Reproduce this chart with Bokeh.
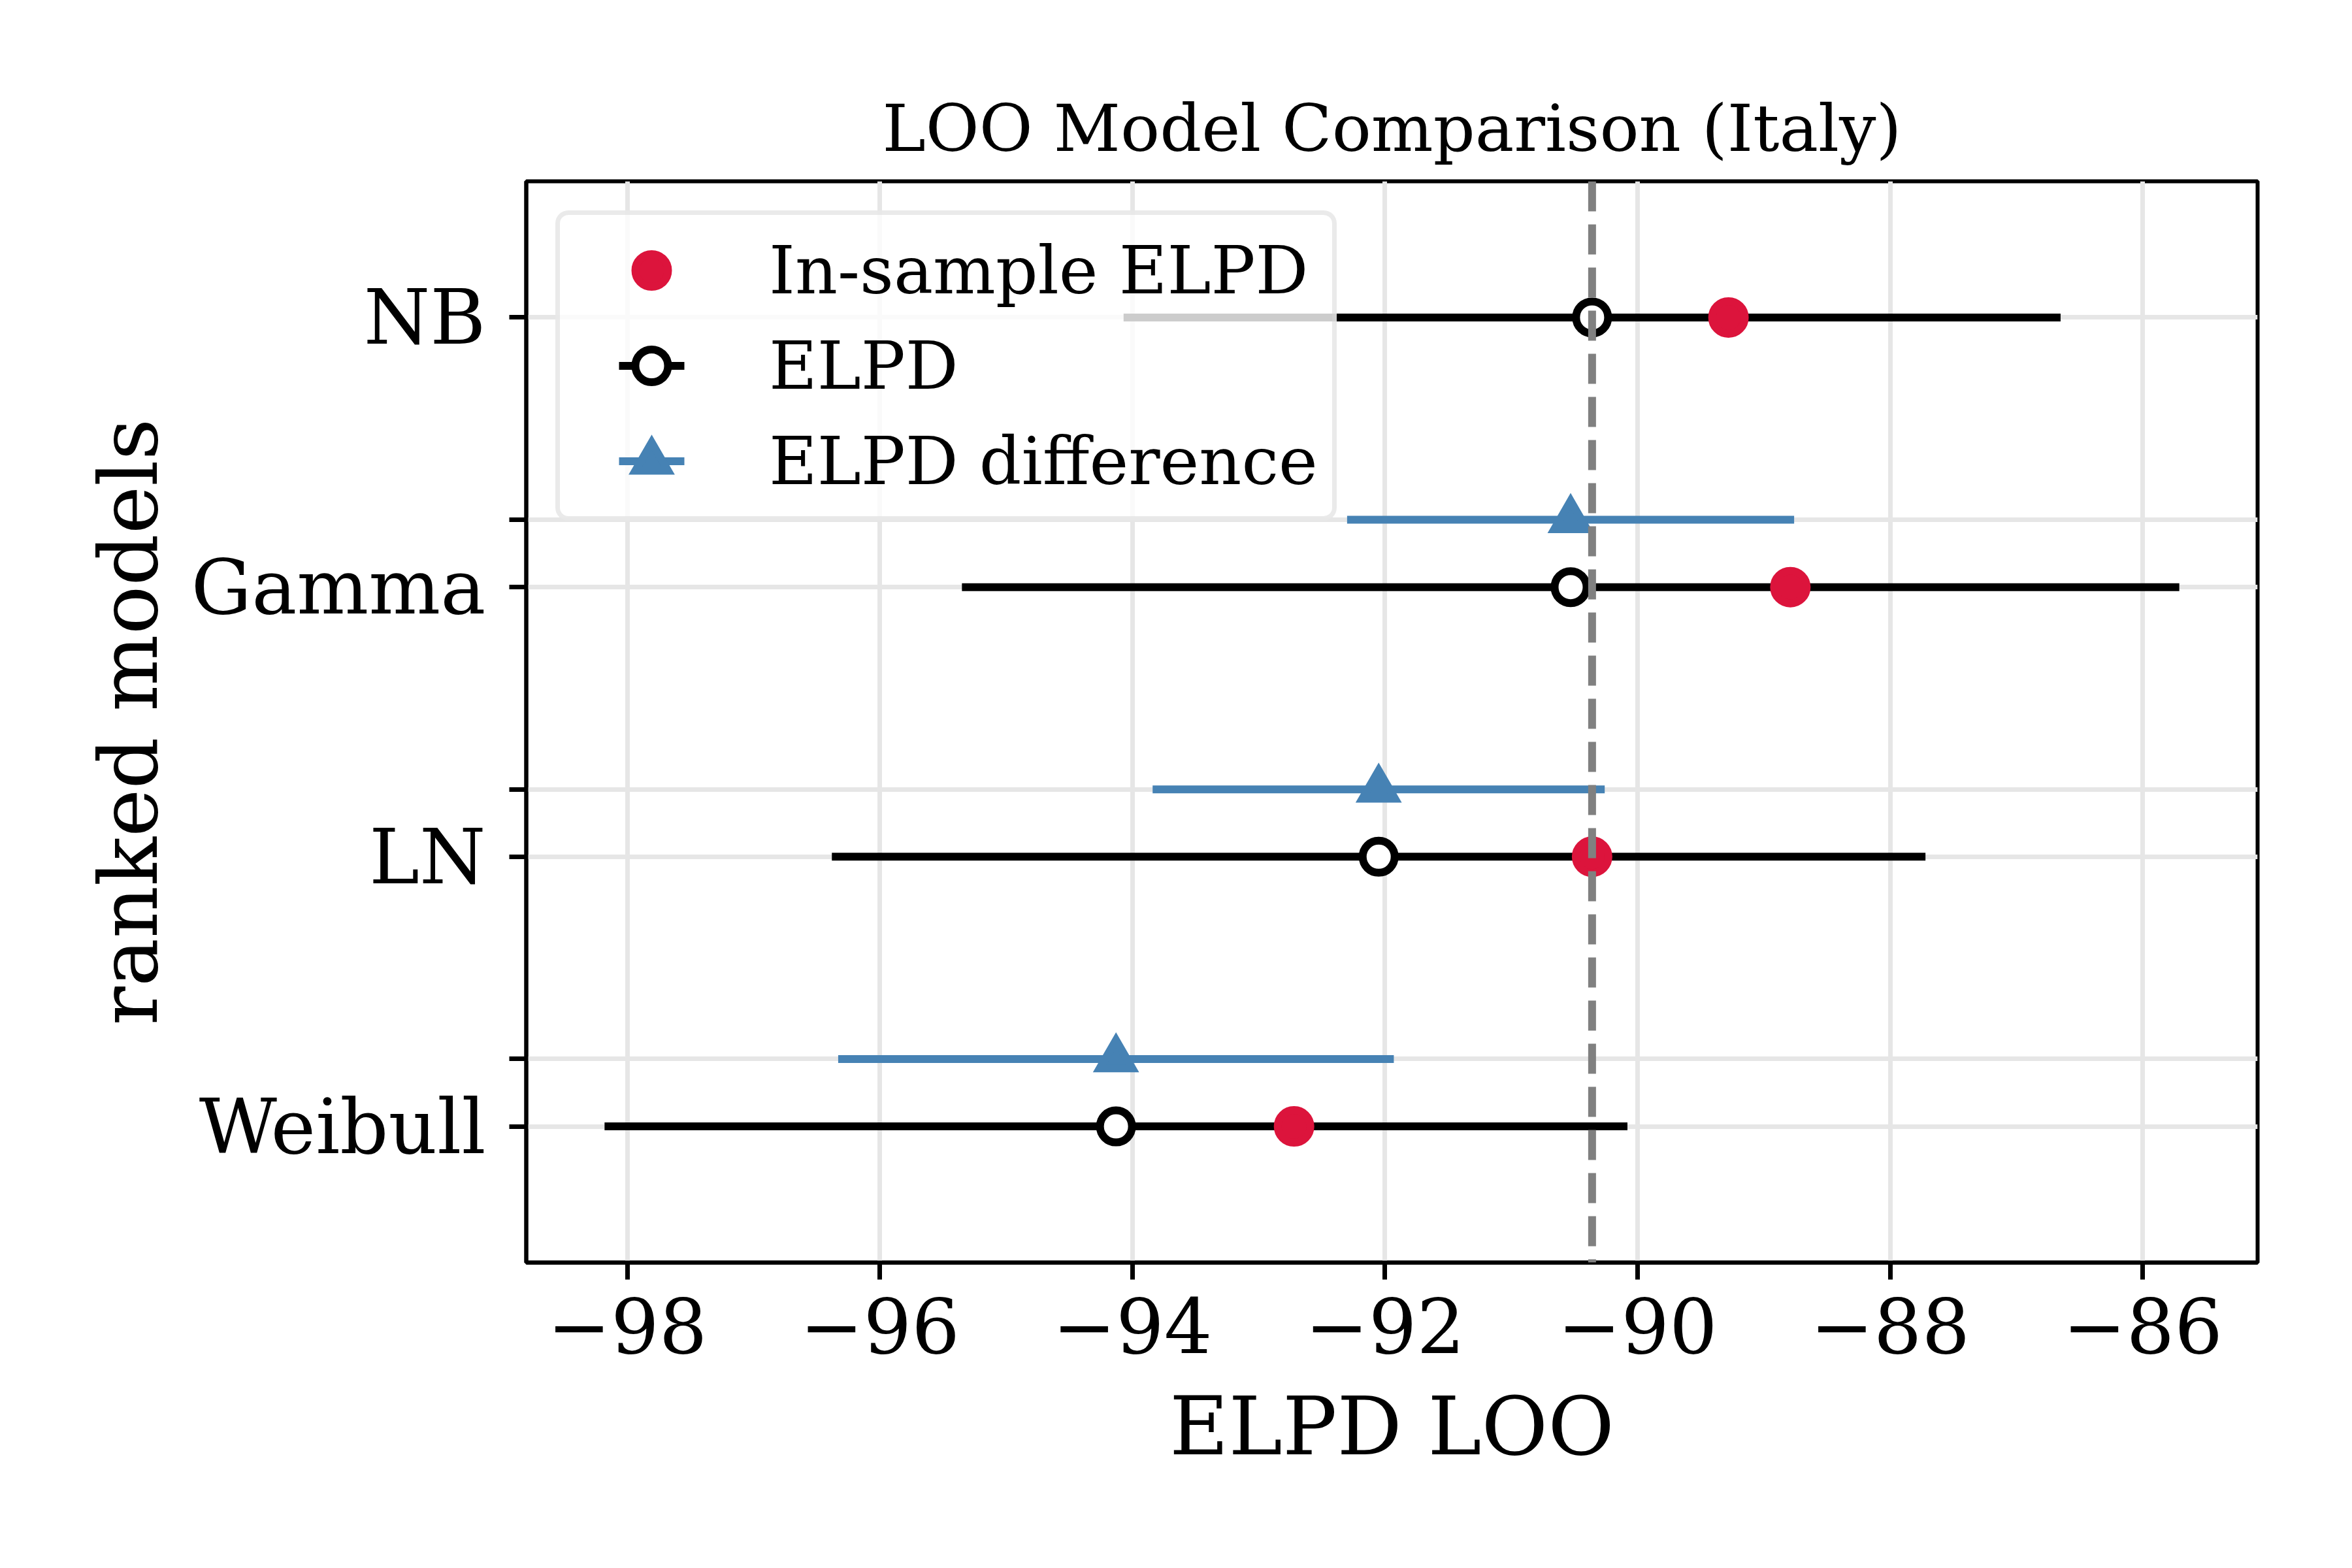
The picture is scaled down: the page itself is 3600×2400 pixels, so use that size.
import math
from bokeh.plotting import figure
from bokeh.models import Range1d, FixedTicker, Legend, LegendItem, Span
from bokeh.embed import file_html
from bokeh.resources import INLINE

FONT = "DejaVu Serif"

# ---- data ----
models = ["NB", "Gamma", "LN", "Weibull"]          # ranked, best first
model_rank = [3, 2, 1, 0]                            # y position of each model row
elpd_loo = [-90.36, -90.53, -92.05, -94.13]
elpd_se = [3.71, 4.82, 4.33, 4.05]
in_sample_elpd = [-89.28, -88.79, -90.36, -92.72]
diff_models = ["Gamma", "LN", "Weibull"]
diff_se = [1.77, 1.79, 2.20]
x_ticks = [-98, -96, -94, -92, -90, -88, -86]
x_tick_labels = ["\u221298", "\u221296", "\u221294", "\u221292", "\u221290", "\u221288", "\u221286"]

DIFF_OFFSET = 0.25
diff_rank = [model_rank[models.index(m)] + DIFF_OFFSET for m in diff_models]
diff_center = [elpd_loo[models.index(m)] for m in diff_models]

elpd_lo = [e - s for e, s in zip(elpd_loo, elpd_se)]
elpd_hi = [e + s for e, s in zip(elpd_loo, elpd_se)]
diff_lo = [e - s for e, s in zip(diff_center, diff_se)]
diff_hi = [e + s for e, s in zip(diff_center, diff_se)]

BLACK = "black"
RED = "#dc143c"
BLUE = "#4682b4"
GRID = "#e6e6e6"

p = figure(width=3584, height=2384, output_backend="svg", toolbar_location=None,
           x_range=Range1d(-98.80, -85.09), y_range=Range1d(-0.505, 3.505),
           min_border_left=805, min_border_right=129, min_border_top=277, min_border_bottom=452,
           title="LOO Model Comparison (Italy)")
p.background_fill_color = "white"
p.border_fill_color = "white"
p.outline_line_color = "black"
p.outline_line_width = 6

p.title.text_font = FONT
p.title.text_font_size = "100px"
p.title.text_font_style = "normal"
p.title.text_color = "black"
p.title.align = "center"
p.title.standoff = 45

# error bars
p.segment(x0=elpd_lo, y0=model_rank, x1=elpd_hi, y1=model_rank, line_color=BLACK, line_width=12)
p.segment(x0=diff_lo, y0=diff_rank, x1=diff_hi, y1=diff_rank, line_color=BLUE, line_width=12)

r_elpd = p.scatter(x=elpd_loo, y=model_rank, marker="circle", size=49,
                   fill_color="white", line_color=BLACK, line_width=12)
r_diff = p.scatter(x=diff_center, y=diff_rank, marker="triangle", size=50,
                   fill_color=BLUE, line_color=BLUE, line_width=12, line_join="miter")
r_in = p.scatter(x=in_sample_elpd, y=model_rank, marker="circle", size=50,
                 fill_color=RED, line_color=RED, line_width=12)

# legend-only line handles (no data drawn)
h_black = p.line(x=[math.nan], y=[math.nan], line_color=BLACK, line_width=12, line_dash="0 68 100 68")
h_blue = p.line(x=[math.nan], y=[math.nan], line_color=BLUE, line_width=12, line_dash="0 68 100 68")

vline = Span(location=elpd_loo[0], dimension="height", line_color="#808080",
             line_width=12, line_dash="46 20")
p.add_layout(vline)

legend = Legend(items=[
    LegendItem(label="In-sample ELPD", renderers=[r_in]),
    LegendItem(label="ELPD", renderers=[h_black, r_elpd]),
    LegendItem(label="ELPD difference", renderers=[h_blue, r_diff]),
], location="top_left")
legend.margin = 45
legend.padding = 22
legend.glyph_width = 236
legend.glyph_height = 125
legend.label_height = 125
legend.label_standoff = 62
legend.spacing = 21
legend.label_text_font = FONT
legend.label_text_font_size = "101px"
legend.label_text_color = "black"
legend.border_line_color = "#d5d5d5"
legend.border_line_width = 7
legend.border_radius = 20
legend.background_fill_color = "white"
legend.background_fill_alpha = 0.8
p.add_layout(legend)

# axes
p.xaxis.ticker = FixedTicker(ticks=x_ticks, minor_ticks=[])
p.xaxis.major_label_overrides = dict(zip(x_ticks, x_tick_labels))
p.yaxis.ticker = FixedTicker(ticks=model_rank, minor_ticks=diff_rank)
p.yaxis.major_label_overrides = dict(zip(model_rank, models))

for ax in (p.xaxis[0], p.yaxis[0]):
    ax.axis_line_width = 6
    ax.axis_line_color = "black"
    ax.major_tick_out = 26
    ax.major_tick_in = 0
    ax.minor_tick_out = 26
    ax.minor_tick_in = 0
    ax.major_tick_line_width = 7
    ax.minor_tick_line_width = 7
    ax.major_tick_line_color = "black"
    ax.minor_tick_line_color = "black"
    ax.major_label_text_font = FONT
    ax.major_label_text_font_size = "116px"
    ax.major_label_text_color = "black"
    ax.axis_label_text_font = FONT
    ax.axis_label_text_font_size = "124px"
    ax.axis_label_text_font_style = "normal"
    ax.axis_label_text_color = "black"

p.xaxis.axis_label = "ELPD LOO"
p.yaxis.axis_label = "ranked models"
p.xaxis.major_label_standoff = 27
p.yaxis.major_label_standoff = 36
p.xaxis.axis_label_standoff = 37
p.yaxis.axis_label_standoff = 21
p.yaxis.major_label_orientation = "horizontal"

p.xgrid.grid_line_color = GRID
p.xgrid.grid_line_width = 7
p.ygrid.grid_line_color = GRID
p.ygrid.grid_line_width = 7
p.ygrid.minor_grid_line_color = GRID
p.ygrid.minor_grid_line_width = 7

open("out.html", "w").write(file_html(p, INLINE))
